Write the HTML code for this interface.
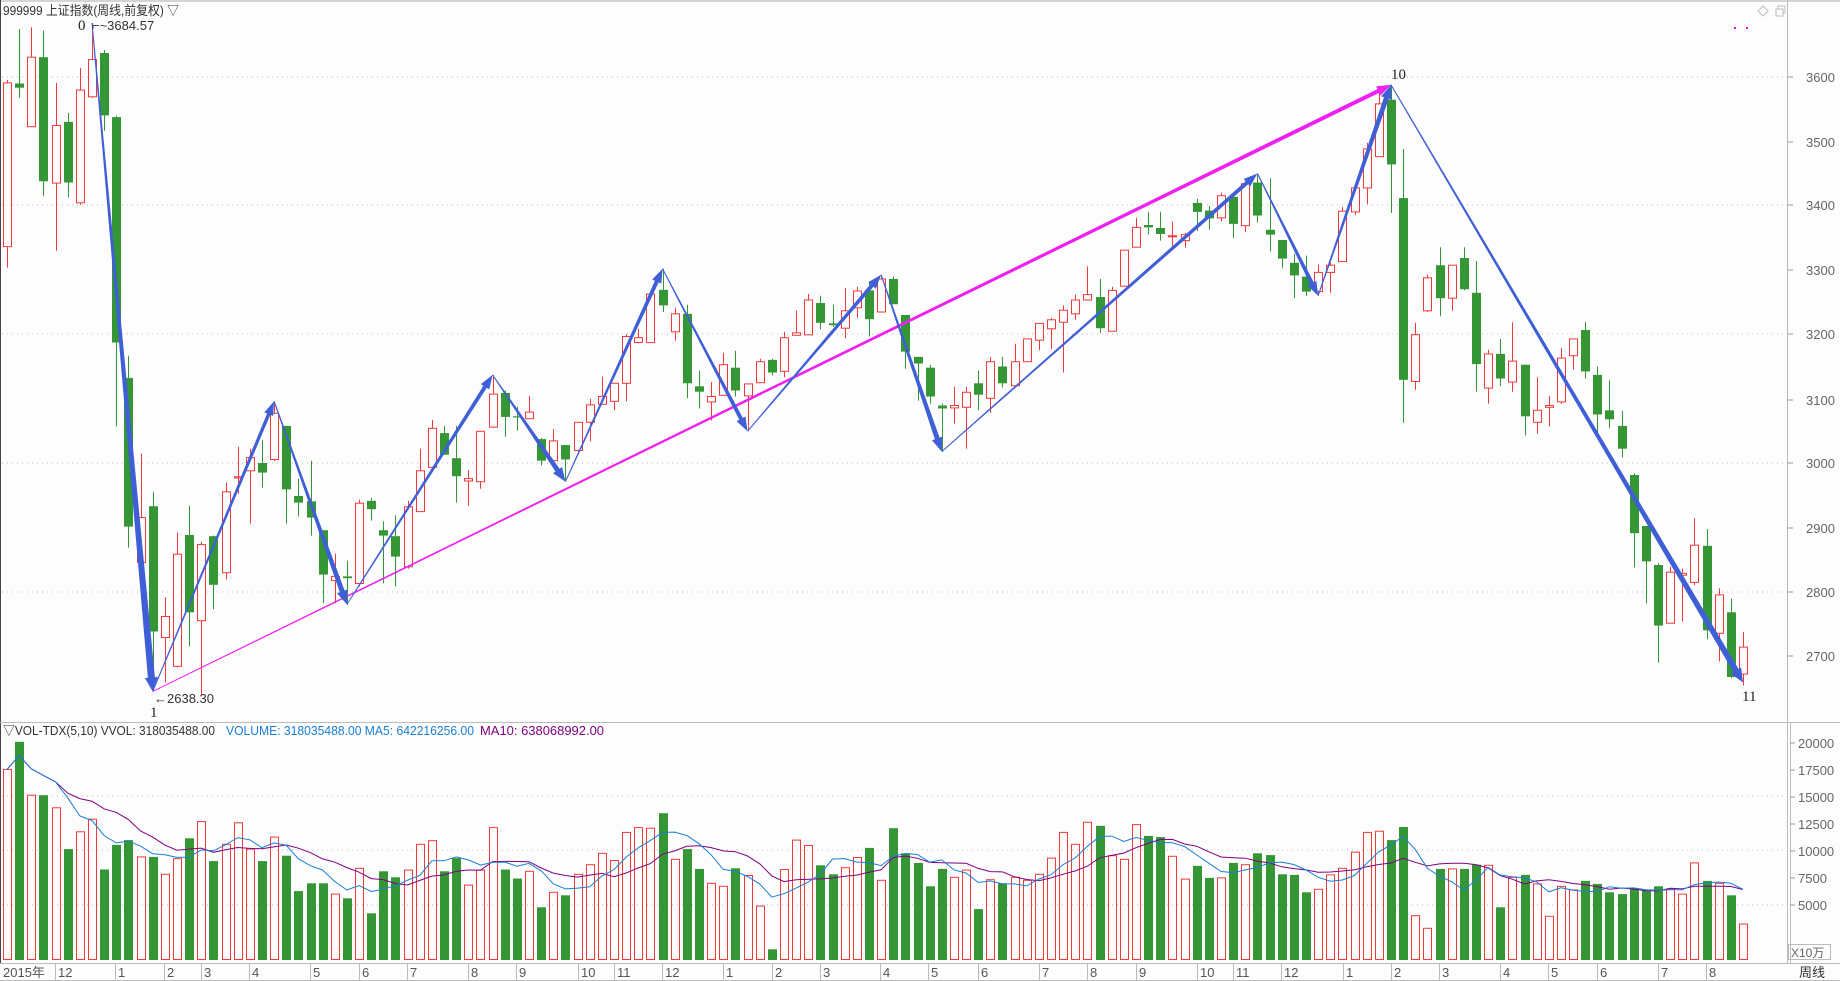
<!DOCTYPE html>
<html><head><meta charset="utf-8">
<style>
html,body{margin:0;padding:0;background:#fdfdfd;}
svg{display:block;font-family:"Liberation Sans","Noto Sans CJK SC",sans-serif;}
</style></head>
<body>
<svg id="s" width="1840" height="981" viewBox="0 0 1840 981" xmlns="http://www.w3.org/2000/svg">
<rect x="0" y="0" width="1840" height="981" fill="#fdfdfd"/>
<line x1="0" y1="1" x2="1840" y2="1" stroke="#aaa"/>
<line x1="0.5" y1="0" x2="0.5" y2="963" stroke="#444"/>
<g stroke="#bbb" stroke-dasharray="1,4">
<line x1="2" y1="77" x2="1783" y2="77"/>
<line x1="2" y1="205" x2="1783" y2="205"/>
<line x1="2" y1="334" x2="1783" y2="334"/>
<line x1="2" y1="463" x2="1783" y2="463"/>
<line x1="2" y1="592" x2="1783" y2="592"/>
<line x1="2" y1="796" x2="1783" y2="796"/>
<line x1="2" y1="850" x2="1783" y2="850"/>
<line x1="2" y1="905" x2="1783" y2="905"/>
</g>
<line x1="1787.5" y1="0" x2="1787.5" y2="963" stroke="#bbb"/>
<line x1="1790.5" y1="723" x2="1790.5" y2="963" stroke="#bbb"/>
<line x1="0" y1="722.5" x2="1840" y2="722.5" stroke="#bbb"/>
<line x1="0" y1="963.5" x2="1840" y2="963.5" stroke="#bbb"/>
<line x1="0" y1="980.5" x2="1840" y2="980.5" stroke="#bbb"/>
<g stroke="#999">
<line x1="1787" y1="77" x2="1793" y2="77"/><line x1="1787" y1="142" x2="1793" y2="142"/>
<line x1="1787" y1="205" x2="1793" y2="205"/><line x1="1787" y1="270" x2="1793" y2="270"/>
<line x1="1787" y1="334" x2="1793" y2="334"/><line x1="1787" y1="400" x2="1793" y2="400"/>
<line x1="1787" y1="463" x2="1793" y2="463"/><line x1="1787" y1="528" x2="1793" y2="528"/>
<line x1="1787" y1="592" x2="1793" y2="592"/><line x1="1787" y1="656" x2="1793" y2="656"/>
<line x1="1790" y1="743" x2="1795" y2="743"/><line x1="1790" y1="770" x2="1795" y2="770"/>
<line x1="1790" y1="797" x2="1795" y2="797"/><line x1="1790" y1="824" x2="1795" y2="824"/>
<line x1="1790" y1="851" x2="1795" y2="851"/><line x1="1790" y1="878" x2="1795" y2="878"/>
<line x1="1790" y1="905" x2="1795" y2="905"/>
</g>
<g fill="#666" font-size="13">
<text x="1806" y="82">3600</text><text x="1806" y="147">3500</text>
<text x="1806" y="210">3400</text><text x="1806" y="275">3300</text>
<text x="1806" y="339">3200</text><text x="1806" y="405">3100</text>
<text x="1806" y="468">3000</text><text x="1806" y="533">2900</text>
<text x="1806" y="597">2800</text><text x="1806" y="661">2700</text>
<text x="1798" y="748">20000</text><text x="1798" y="775">17500</text>
<text x="1798" y="802">15000</text><text x="1798" y="829">12500</text>
<text x="1798" y="856">10000</text><text x="1798" y="883">7500</text>
<text x="1798" y="910">5000</text>
</g>
<rect x="1788.5" y="944.5" width="42" height="15" fill="none" stroke="#bbb"/>
<text x="1791" y="957" font-size="12" fill="#666">X10万</text>
<text x="1799" y="977" font-size="13" fill="#333">周线</text>
<text x="3" y="15" font-size="13" fill="#333" textLength="176" lengthAdjust="spacingAndGlyphs">999999 上证指数(周线,前复权) ▽</text>
<g fill="none" stroke="#bbb"><path d="M1763 6 L1768 11 L1763 16 L1758 11 Z"/><rect x="1776" y="9" width="7" height="7"/><path d="M1778 9 V6 H1785 V13 H1783"/></g>
<rect x="1734" y="27" width="2" height="2" fill="#f0f"/><rect x="1746" y="27" width="2" height="2" fill="#f0f"/>
<text x="3" y="735" font-size="13" fill="#333" textLength="212" lengthAdjust="spacingAndGlyphs">▽VOL-TDX(5,10)  VVOL: 318035488.00</text>
<text x="226" y="735" font-size="13" fill="#1a7fd4" textLength="248" lengthAdjust="spacingAndGlyphs">VOLUME: 318035488.00  MA5: 642216256.00</text>
<text x="480" y="735" font-size="13" fill="#800080" textLength="124" lengthAdjust="spacingAndGlyphs">MA10: 638068992.00</text>
<g id="dates" font-size="13" fill="#555" stroke-width="1">
<text x="3" y="977">2015年</text>
</g>
<g id="c"></g>
<g font-size="15" fill="#222" font-family="Liberation Serif, serif">
<text x="78" y="30">0</text>
<text x="150" y="717">1</text>
<text x="1391" y="79">10</text>
<text x="1742" y="701">11</text>
</g>
<text x="92" y="30" font-size="13" fill="#333">⌐~3684.57</text>
<text x="154" y="703" font-size="13" fill="#333">←2638.30</text>
</svg>
<script>
var D=[
['r',105,378,100,413,1250],['g',106,113,15,130,1204],['r',62,178,12,178,1293],['g',62,269,18,294,1293],
['r',176,272,105,385,1314],['g',170,271,155,296,1383],['r',117,305,80,308,1354],['r',66,128,5,130,1333],
['g',55,159,50,185,1417],['g',162,538,160,678,1376],['g',597,845,560,880,1368],['r',830,905,723,905,1396],
['g',811,1020,787,1120,1396],['r',995,1030,963,1105,1425],['r',891,1078,855,1080,1399],['g',859,988,810,1045,1365],
['r',875,1002,870,1125,1337],['g',861,942,860,983,1403],['r',787,922,772,933,1375],['r',762,764,712,790,1339],
['r',730,752,715,840,1383],['g',739,755,700,780,1403],['r',656,733,636,736,1363],['g',677,783,677,840,1394],
['g',794,805,765,828,1453],['g',803,830,735,860,1440],['g',851,925,851,973,1440],['r',928,935,890,973,1458],
['g',928,931,902,975,1465],['r',806,940,800,945,1415],['g',802,816,797,835,1490],['g',851,860,836,940,1420],
['g',861,895,826,945,1430],['r',812,912,802,915,1418],['r',752,820,715,820,1375],['r',681,746,667,750,1369],
['g',689,725,677,725,1420],['g',731,761,677,805,1398],['r',765,769,751,810,1443],['r',686,770,686,782,1418],
['r',624,679,592,680,1347],['g',622,662,618,695,1417],['g',661,663,645,685,1432],['r',654,665,627,665,1420],
['g',699,735,697,743,1480],['r',702,735,682,735,1455],['g',709,733,709,770,1460],['r',671,718,671,722,1425],
['r',642,671,632,703,1409],['r',628,641,595,641,1390],['r',606,636,606,651,1402],['r',528,606,524,636,1355],
['r',530,538,515,538,1347],['r',457,538,457,538,1348],['g',450,476,415,487,1323],['r',490,520,480,535,1400],
['g',490,606,475,631,1383],['g',611,620,585,648,1416],['r',628,637,604,668,1440],['r',575,626,555,626,1445],
['g',580,618,552,628,1415],['r',607,627,607,686,1427],['r',570,605,565,605,1478],['g',567,588,565,593,1550],
['r',530,586,520,596,1417],['r',522,526,485,526,1368],['r',467,525,457,525,1377],['g',472,505,460,516,1410],
['g',506,509,475,512,1425],['r',485,514,447,531,1414],['r',452,480,445,497,1397],['g',451,499,436,528,1381],
['r',432,487,425,487,1435],['g',432,474,428,474,1348],['g',492,553,492,582,1390],['g',562,573,562,635,1406],
['g',580,628,575,640,1445],['g',643,648,640,720,1416],['r',643,647,612,673,1430],['r',621,646,612,715,1418],
['g',606,625,585,651,1483],['r',570,631,562,655,1434],['g',578,606,562,613,1440],['r',570,610,540,610,1430],
['r',532,570,532,570,1435],['r',506,534,506,551,1425],['r',500,515,497,549,1398],['r',484,504,476,588,1355],
['r',467,490,458,500,1375],['r',458,467,411,467,1338],['g',462,514,432,522,1344],['r',451,519,445,519,1394],
['r',384,444,384,444,1400],['r',346,379,330,379,1342],['g',342,346,320,358,1361],['g',347,357,320,368,1363],
['r',360,361,336,378,1395],['r',358,368,355,380,1433],['g',305,320,298,352,1411],['g',318,331,310,350,1431],
['r',293,330,288,336,1431],['g',295,340,295,364,1406],['r',273,343,270,354,1409],['g',271,326,256,338,1390],
['g',350,358,264,386,1393],['g',367,398,367,414,1425],['g',405,426,390,464,1426],['g',428,453,393,460,1455],
['r',421,453,408,460,1450],['r',409,421,405,455,1426],['r',319,403,312,403,1415],['r',280,320,274,325,1388],
['r',215,280,205,307,1355],['r',140,228,115,228,1353],['g',133,241,108,322,1368],['g',297,600,215,672,1346],
['r',525,603,505,617,1494],['r',430,485,425,487,1515],['g',409,464,379,494,1416],['r',409,464,409,485,1416],
['g',397,449,379,451,1416],['g',455,574,402,620,1409],['r',557,614,550,640,1410],['g',557,598,532,611,1480],
['r',569,604,504,620,1430],['g',575,661,575,693,1426],['r',651,671,596,690,1441],['r',643,646,627,678,1495],
['r',564,637,547,640,1445],['r',532,560,532,583,1451],['g',517,586,503,598,1436],['g',592,658,578,698,1441],
['g',651,666,601,681,1455],['g',677,715,652,730,1458],['g',759,856,756,913,1448],['g',844,903,844,973,1452],
['g',909,1010,906,1072,1445],['r',921,1006,912,1006,1450],['r',923,926,915,1003,1458],['r',876,938,831,943,1406],
['g',877,1018,849,1033,1436],['r',959,1023,948,1070,1440],['g',988,1096,965,1098,1460],['r',1046,1091,1021,1110,1508]];
function X(i){return 7+12.14*i;}
function Y(z){return 20+z/1.668;}
var R='#f03a3a',G='#359635',s='';
var BASE=959.5;
for(var i=0;i<D.length;i++){
 var d=D[i],x=Math.round(X(i)),c=d[0]=='r'?R:G;
 var bt=Y(d[1]),bb=Y(d[2]),h=Y(d[3]),l=Y(d[4]);
 s+='<line x1="'+(x+0.5)+'" y1="'+h.toFixed(1)+'" x2="'+(x+0.5)+'" y2="'+l.toFixed(1)+'" stroke="'+c+'"/>';
 var bh=Math.max(1,bb-bt);
 if(d[0]=='r'){
  s+='<rect x="'+(x-3.5)+'" y="'+bt.toFixed(1)+'" width="8" height="'+bh.toFixed(1)+'" fill="#fdfdfd" stroke="'+R+'"/>';
 } else {
  s+='<rect x="'+(x-4)+'" y="'+bt.toFixed(1)+'" width="9" height="'+bh.toFixed(1)+'" fill="'+G+'"/>';
 }
 var vt=Y(d[5]);
 if(d[0]=='r') s+='<rect x="'+(x-3.5)+'" y="'+vt.toFixed(1)+'" width="8" height="'+(BASE-vt).toFixed(1)+'" fill="none" stroke="'+R+'"/>';
 else s+='<rect x="'+(x-4)+'" y="'+vt.toFixed(1)+'" width="9" height="'+(BASE+0.5-vt).toFixed(1)+'" fill="'+G+'"/>';
}
function ma(n,col){
 var p='';
 for(var i=0;i<D.length;i++){
  var a=0,k=0;for(var j=Math.max(0,i-n+1);j<=i;j++){a+=D[j][5];k++;}
  p+=(i?'L':'M')+X(i).toFixed(1)+' '+Y(a/k).toFixed(1);
 }
 return '<path d="'+p+'" fill="none" stroke="'+col+'" stroke-width="1"/>';
}
s+=ma(10,'#800080')+ma(5,'#1a7fd4');
function arrow(i1,z1,i2,z2,w,col){
 var x1=X(i1),y1=Y(z1),x2=X(i2),y2=Y(z2);
 var dx=x2-x1,dy=y2-y1,L=Math.sqrt(dx*dx+dy*dy),ux=dx/L,uy=dy/L,nx=-uy,ny=ux;
 var hl=Math.min(14,L*0.3),hw=w/2+3;
 var bx=x2-ux*hl,by=y2-uy*hl;
 function P(x,y){return x.toFixed(1)+','+y.toFixed(1)+' ';}
 var pts=P(x1+nx*0.5,y1+ny*0.5)+P(bx+nx*w/2,by+ny*w/2)+P(bx+nx*hw,by+ny*hw)+P(x2,y2)+P(bx-nx*hw,by-ny*hw)+P(bx-nx*w/2,by-ny*w/2)+P(x1-nx*0.5,y1-ny*0.5);
 return '<polygon points="'+pts+'" fill="'+col+'"/>';
}
var B='#3f5fd6',M='#f020f0';
s+=arrow(12,1120,114,108,4,M);
var Z=[[7,5],[12,1120],[22,636],[28,975],[40,592],[46,770],[54,415],[61,686],[72,425],[77,720],[103,256],[108,460],[114,108],[143,1105]];
var W=[7,3.5,5,4,5,4,4,4,5,4,4,5,6];
for(var k=0;k<Z.length-1;k++) s+=arrow(Z[k][0],Z[k][1],Z[k+1][0],Z[k+1][1],W[k],B);
document.getElementById('c').innerHTML=s;
var mx=[55,115,164,201,249,310,359,407,468,516,578,614,662,723,772,820,880,928,978,1039,1087,1136,1197,1233,1281,1343,1391,1439,1500,1548,1597,1658,1706];
var ml=['12','1','2','3','4','5','6','7','8','9','10','11','12','1','2','3','4','5','6','7','8','9','10','11','12','1','2','3','4','5','6','7','8'];
var t='';
for(var m=0;m<mx.length;m++){
 t+='<line x1="'+(mx[m]+0.5)+'" y1="964" x2="'+(mx[m]+0.5)+'" y2="980" stroke="#bbb"/>';
 t+='<text x="'+(mx[m]+3)+'" y="977">'+ml[m]+'</text>';
}
document.getElementById('dates').insertAdjacentHTML('beforeend',t);
</script>
</body></html>
